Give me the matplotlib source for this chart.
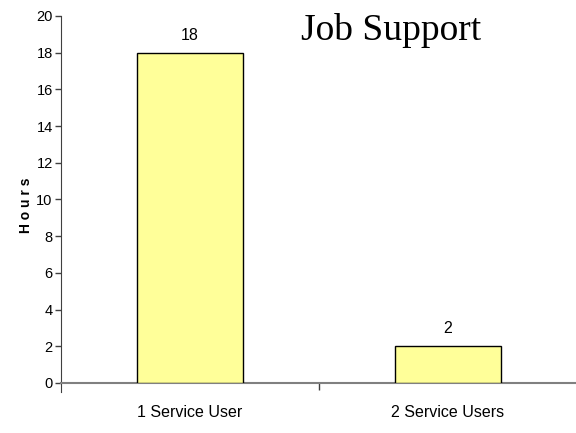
import matplotlib.pyplot as plt
import numpy as np

categories = ["1 Service User", "2 Service Users"]
hours = [18, 2]
yticks = [0, 2, 4, 6, 8, 10, 12, 14, 16, 18, 20]

sans = ["Liberation Sans Narrow", "Liberation Sans", "DejaVu Sans"]

fig = plt.figure(figsize=(5.76, 4.33), dpi=100)
ax = fig.add_axes([61 / 576, 1 - 383 / 433, 516 / 576, 367 / 433])

x = np.arange(len(categories))
ax.bar(x, hours, width=0.41, color="#FFFF99", edgecolor="black", linewidth=1.0, zorder=3)

for xi, h in zip(x, hours):
    ax.text(xi, h + 0.55, str(h), ha="center", va="bottom", fontsize=11.5, family=sans)

ax.set_xlim(-0.5, 1.5)
ax.set_ylim(0, 20)
ax.set_yticks(yticks)
ax.set_yticklabels([str(t) for t in yticks], family=sans, fontsize=10.5)
ax.set_xticks([0.5])
ax.set_xticklabels([""])
ax.tick_params(axis="y", length=4, width=1, color="#404040", pad=2)
ax.tick_params(axis="x", length=5, width=1, color="#404040")

for xi, lab in zip(x, categories):
    ax.text(xi, -1.2, lab, ha="center", va="top", fontsize=11.5, family=sans)

ax.spines["top"].set_visible(False)
ax.spines["right"].set_visible(False)
ax.spines["left"].set_color("#404040")
ax.spines["bottom"].set_color("#808080")
ax.spines["bottom"].set_linewidth(1.5)
ax.spines["left"].set_bounds(-0.5, 20)

fig.text(26 / 576, 1 - 205 / 433, "H o u r s", rotation=90, ha="center", va="center",
         fontsize=10, fontweight="bold", family=sans)
fig.text(391 / 576, 1 - 30 / 433, "Job Support", ha="center", va="center",
         fontsize=27, family=["Liberation Serif", "DejaVu Serif"])

fig.savefig("out.png", dpi=100)
